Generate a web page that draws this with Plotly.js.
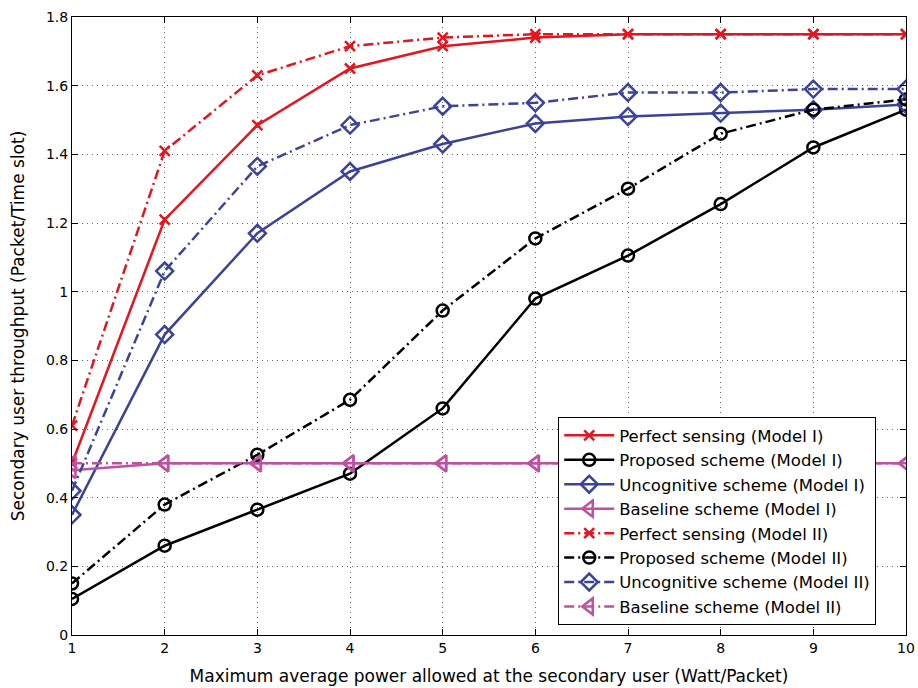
<!DOCTYPE html>
<html><head><meta charset="utf-8">
<script src="https://cdn.plot.ly/plotly-3.0.1.min.js"></script>
<style>body{margin:0;background:#fff}#chart{width:918px;height:688px}</style>
</head><body><div id="chart"></div>
<script>
const power = [1,2,3,4,5,6,7,8,9,10];
const perfectI  = [0.50,1.21,1.485,1.65,1.715,1.74,1.75,1.75,1.75,1.75];
const proposedI = [0.105,0.26,0.365,0.47,0.66,0.98,1.105,1.255,1.42,1.53];
const uncogI    = [0.35,0.875,1.17,1.35,1.43,1.49,1.51,1.52,1.53,1.545];
const baseI     = [0.48,0.50,0.50,0.50,0.50,0.50,0.50,0.50,0.50,0.50];
const perfectII  = [0.61,1.41,1.63,1.715,1.74,1.75,1.75,1.75,1.75,1.75];
const proposedII = [0.15,0.38,0.525,0.685,0.945,1.155,1.30,1.46,1.53,1.56];
const uncogII    = [0.42,1.06,1.365,1.485,1.54,1.55,1.58,1.58,1.59,1.59];
const baseII     = [0.50,0.50,0.50,0.50,0.50,0.50,0.50,0.50,0.50,0.50];
const names = ['Perfect sensing (Model I)','Proposed scheme (Model I)','Uncognitive scheme (Model I)','Baseline scheme (Model I)',
               'Perfect sensing (Model II)','Proposed scheme (Model II)','Uncognitive scheme (Model II)','Baseline scheme (Model II)'];

const RED='#e6141e', BLK='#000000', BLU='#3b4399', MAG='#c0519f';
const DD='10px,4px,2px,4px';
function tr(y,name,color,sym,dash,size){
  return {x:power,y:y,name:name,type:'scatter',mode:'lines+markers',
    line:{color:color,width:2.5,dash:dash},
    marker:{symbol:sym,size:size,color:color,line:{color:color,width:2.5}}};
}
const data=[
  tr(perfectI,names[0],RED,'x-thin-open','solid',10),
  tr(proposedI,names[1],BLK,'circle-open','solid',12),
  tr(uncogI,names[2],BLU,'diamond-open','solid',13),
  tr(baseI,names[3],MAG,'triangle-left-open','solid',14),
  tr(perfectII,names[4],RED,'x-thin-open',DD,10),
  tr(proposedII,names[5],BLK,'circle-open',DD,12),
  tr(uncogII,names[6],BLU,'diamond-open',DD,13),
  tr(baseII,names[7],MAG,'triangle-left-open',DD,14)
];
const font='DejaVu Sans, Arial, sans-serif';
const layout={
  width:918,height:688,
  margin:{l:72,r:12,t:17,b:53},
  paper_bgcolor:'#fff',plot_bgcolor:'#fff',
  font:{family:font,size:14,color:'#000'},
  showlegend:true,
  xaxis:{range:[1,10],dtick:1,tick0:1,ticks:'inside',ticklen:6,tickcolor:'#000',
    showline:true,linecolor:'#000',linewidth:1,mirror:'allticks',
    showgrid:true,gridcolor:'#666',griddash:'1px,4px',gridwidth:1,zeroline:false,
    tickfont:{size:14},
    title:{text:'Maximum average power allowed at the secondary user (Watt/Packet)',font:{size:17},standoff:15}},
  yaxis:{range:[0,1.8],dtick:0.2,tick0:0,ticks:'inside',ticklen:6,tickcolor:'#000',
    showline:true,linecolor:'#000',linewidth:1,mirror:'allticks',
    showgrid:true,gridcolor:'#666',griddash:'1px,4px',gridwidth:1,zeroline:false,
    tickfont:{size:14},
    title:{text:'Secondary user throughput (Packet/Time slot)',font:{size:17},standoff:16}},
  legend:{x:0.583,y:0.016,xanchor:'left',yanchor:'bottom',bgcolor:'#fff',
    bordercolor:'#000',borderwidth:1,font:{size:16.5},tracegroupgap:0,itemwidth:50}
};
Plotly.newPlot('chart',data,layout,{displayModeBar:false,staticPlot:true});
</script></body></html>
